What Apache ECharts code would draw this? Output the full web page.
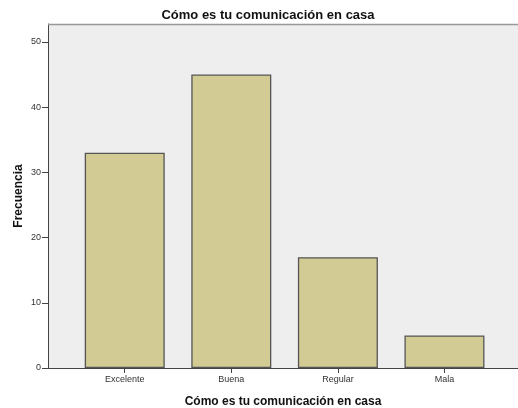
<!DOCTYPE html>
<html><head><meta charset="utf-8">
<script src="https://cdn.jsdelivr.net/npm/echarts@6/dist/echarts.min.js"></script>
<style>html,body{margin:0;padding:0;background:#fff}#c{width:518px;height:408px}</style>
</head><body><div id="c"></div>
<script>
var categories = ["Excelente", "Buena", "Regular", "Mala"];
var values = [33, 45, 17, 5];
var yTicks = [0, 10, 20, 30, 40, 50];
var title = "Cómo es tu comunicación en casa";
var yName = "Frecuencia";

var chart = echarts.init(document.getElementById('c'), null, {renderer: 'canvas'});
var font = 'Liberation Sans, Arial, sans-serif';
chart.setOption({
  animation: false,
  title: {text: title, left: 263, textAlign: 'center', top: 4,
    textStyle: {fontFamily: font, fontSize: 13, fontWeight: 'bold', color: '#111'}},
  grid: {left: 48, right: 0, top: 24, bottom: 40, show: true, backgroundColor: '#EEEEEE',
    borderColor: '#999', borderWidth: 0, outerBoundsMode: 'none', containLabel: false},
  xAxis: {type: 'value', min: -0.72, max: 3.69,
    name: title, nameLocation: 'middle', nameGap: 28, nameMoveOverlap: false,
    nameTextStyle: {fontFamily: font, fontSize: 12, fontWeight: 'bold', color: '#111'},
    axisLine: {show: true, onZero: false, lineStyle: {color: '#444', width: 1}},
    axisTick: {show: true, length: 5, lineStyle: {color: '#444'}, customValues: [0, 1, 2, 3]},
    axisLabel: {customValues: [0, 1, 2, 3], fontFamily: font, fontSize: 9, color: '#333', margin: 7,
      formatter: function (v) { return categories[Math.round(v)]; }},
    splitLine: {show: false}},
  yAxis: {type: 'value', min: 0, max: 52.75,
    name: yName, nameLocation: 'middle', nameGap: 23, nameRotate: 90, nameMoveOverlap: false,
    nameTextStyle: {fontFamily: font, fontSize: 12, fontWeight: 'bold', color: '#111'},
    axisLine: {show: true, onZero: false, lineStyle: {color: '#444', width: 1}},
    axisTick: {show: true, length: 6, lineStyle: {color: '#444'}, customValues: yTicks},
    axisLabel: {customValues: yTicks, fontFamily: font, fontSize: 9, color: '#333', margin: 7},
    splitLine: {show: false}},
  series: [{
    type: 'bar', barWidth: 80,
    data: values.map(function (v, i) { return [i, v]; }),
    itemStyle: {color: '#D2CB94', borderColor: '#555', borderWidth: 1.3}
  }],
  graphic: []
});
// top border line of plot area
var tl = chart.convertToPixel({gridIndex: 0}, [-0.72, 52.75]);
var tr = chart.convertToPixel({gridIndex: 0}, [3.69, 52.75]);
chart.setOption({graphic: [{type: 'line', shape: {x1: tl[0], y1: tl[1] + 0.5, x2: tr[0], y2: tr[1] + 0.5},
  style: {stroke: '#999', lineWidth: 1.5}, z: 10}]});
</script></body></html>
